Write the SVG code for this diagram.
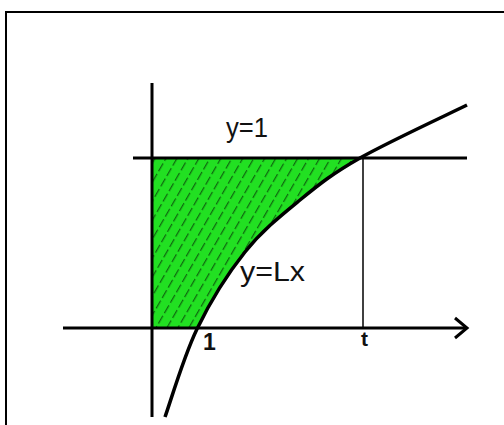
<svg xmlns="http://www.w3.org/2000/svg" width="504" height="425" viewBox="0 0 504 425">
<style>
.ax{stroke:#000;stroke-width:3;fill:none;stroke-linecap:butt}
.thin{stroke:#000;stroke-width:1.5;fill:none}
.lbl{font-family:"Liberation Sans",Arial,sans-serif;fill:#111}
</style>
<defs>
<pattern id="hatch" patternUnits="userSpaceOnUse" width="9.5" height="12" patternTransform="rotate(30)">
<line x1="4.5" y1="0" x2="4.5" y2="9" stroke="#0a4a0a" stroke-width="1"/>
</pattern>
</defs>
<rect width="504" height="425" fill="#fff"/>
<path d="M6,425 L6,12 L504,12" fill="none" stroke="#000" stroke-width="2"/>
<g id="region">
<path d="M152,158 L360,158 C332.2,173.8 319.2,184.3 300,200 C280.8,215.7 262.2,230.5 245,252 C227.8,273.5 210.3,301.5 197,329 L152,328 Z" fill="#22e022"/>
<path d="M152,158 L360,158 C332.2,173.8 319.2,184.3 300,200 C280.8,215.7 262.2,230.5 245,252 C227.8,273.5 210.3,301.5 197,329 L152,328 Z" fill="url(#hatch)"/>
</g>
<g id="axes">
<line class="ax" x1="63" y1="328" x2="466" y2="328"/>
<polyline class="ax" points="455,318 467,328 455,338"/>
<line class="ax" x1="152" y1="83" x2="152" y2="417"/>
<line class="ax" x1="133" y1="158" x2="467" y2="158"/>
<line class="thin" x1="363" y1="158" x2="363" y2="328"/>
</g>
<g id="curve">
<path d="M165,417 C170.3,402.3 183.7,356.5 197,329 C210.3,301.5 227.8,273.5 245,252 C262.2,230.5 280.8,215.7 300,200 C319.2,184.3 332.2,173.8 360,158 C387.8,142.2 449.2,113.8 467,105" fill="none" stroke="#000" stroke-width="3.5"/>
</g>
<g id="labels">
<text class="lbl" x="226" y="137" font-size="27" textLength="42" lengthAdjust="spacingAndGlyphs">y=1</text>
<text class="lbl" x="240" y="281" font-size="27" textLength="65" lengthAdjust="spacingAndGlyphs">y=Lx</text>
<text class="lbl" x="203" y="350" font-size="23" font-weight="bold">1</text>
<text class="lbl" x="361" y="346" font-size="21" font-weight="bold">t</text>
</g>
</svg>
